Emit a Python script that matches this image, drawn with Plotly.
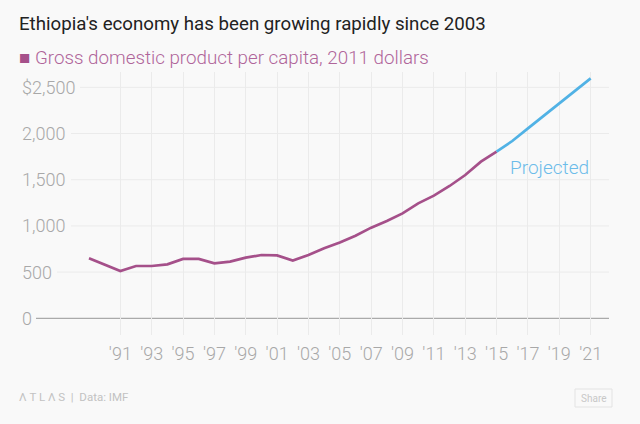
import plotly.graph_objects as go

years_hist = list(range(1989, 2016))
gdp_hist = [649, 580, 512, 566, 566, 584, 642, 642, 595, 613, 656, 685, 680, 624,
            685, 758, 820, 894, 981, 1053, 1136, 1244, 1327, 1432, 1551, 1695, 1803]
years_proj = list(range(2015, 2022))
gdp_proj = [1803, 1919, 2056, 2189, 2327, 2460, 2597]

tick_years = list(range(1991, 2022, 2))
tick_text = ["'" + str(y)[2:] for y in tick_years]
y_ticks = [0, 500, 1000, 1500, 2000, 2500]
y_text = ["0", "500", "1,000", "1,500", "2,000", "$2,500"]

PURPLE = "#a5508a"
BLUE = "#51b2e5"
BG = "#f9f9f9"
FONT = "Roboto"

L, R, T, B = 20, 31, 72, 89
W, H = 640, 424
pw = W - L - R
ph = H - T - B


def px_to_paper(fx, fy):
    return (fx - L) / pw, ((H - B) - fy) / ph


fig = go.Figure()
fig.add_trace(go.Scatter(x=years_hist, y=gdp_hist, mode="lines",
                         line=dict(color=PURPLE, width=2.7), hoverinfo="skip"))
fig.add_trace(go.Scatter(x=years_proj, y=gdp_proj, mode="lines",
                         line=dict(color=BLUE, width=2.7), hoverinfo="skip"))

# horizontal gridlines starting after inside labels
grid_start_px = {0: 36, 500: 57, 1000: 71, 1500: 71, 2000: 71, 2500: 80}
shapes = []
for v in y_ticks:
    x0 = (grid_start_px[v] - L) / pw
    shapes.append(dict(type="line", xref="paper", yref="y", x0=x0, x1=1, y0=v, y1=v,
                       line=dict(color="#aaaaaa" if v == 0 else "#ebebeb",
                                 width=1.3 if v == 0 else 1),
                       layer="below"))
# share button
bx0, by0 = px_to_paper(575, 407)
bx1, by1 = px_to_paper(612, 389)
shapes.append(dict(type="rect", xref="paper", yref="paper", x0=bx0, x1=bx1, y0=by0, y1=by1,
                   line=dict(color="#e3e3e3", width=1), fillcolor=BG))

annotations = []
for v, t in zip(y_ticks, y_text):
    annotations.append(dict(x=0, xref="paper", y=v, yref="y", text=t, showarrow=False,
                            xanchor="left", yanchor="middle",
                            font=dict(family=FONT, size=18, color="#a8a8a8", weight=300)))
annotations.append(dict(x=2015.75, y=1630, xref="x", yref="y", text="Projected", showarrow=False,
                        xanchor="left", yanchor="middle",
                        font=dict(family=FONT, size=19, color="#6cbce9", weight=300)))


def fig_text(fx, fy, text, size, color, xanchor="left", weight=400):
    x, y = px_to_paper(fx, fy)
    annotations.append(dict(x=x, y=y, xref="paper", yref="paper", xanchor=xanchor,
                            yanchor="middle", showarrow=False, text=text,
                            font=dict(family=FONT, size=size, color=color, weight=weight)))


fig_text(17, 24, "Ethiopia's economy has been growing rapidly since 2003", 18.7, "#222222")
fig_text(17, 58, "<span style='color:#a5508a'>■</span> Gross domestic product per capita, 2011 dollars",
         18.8, "#b0659a", weight=300)
fig_text(17, 397, "Λ T L Λ S  |  Data: IMF", 11.5, "#c2c2c2")
fig_text(593.5, 398, "Share", 10, "#c8c8c8", xanchor="center")

fig.update_layout(
    width=W, height=H, margin=dict(l=L, r=R, t=T, b=B),
    paper_bgcolor=BG, plot_bgcolor=BG, showlegend=False,
    shapes=shapes, annotations=annotations,
    xaxis=dict(range=[1984.6, 2022.17], tickvals=tick_years, ticktext=tick_text,
               showgrid=True, gridcolor="#ebebeb", gridwidth=1, zeroline=False,
               showline=False, ticks="", fixedrange=True, ticklabelstandoff=6,
               tickfont=dict(family=FONT, size=18, color="#a8a8a8", weight=300)),
    yaxis=dict(range=[-181, 2666], showgrid=False, zeroline=False, showticklabels=False,
               showline=False, fixedrange=True),
)
fig.write_html("out.html", config={"displayModeBar": False},
               post_script="document.body.style.margin='0';document.body.style.background='#f9f9f9';")
